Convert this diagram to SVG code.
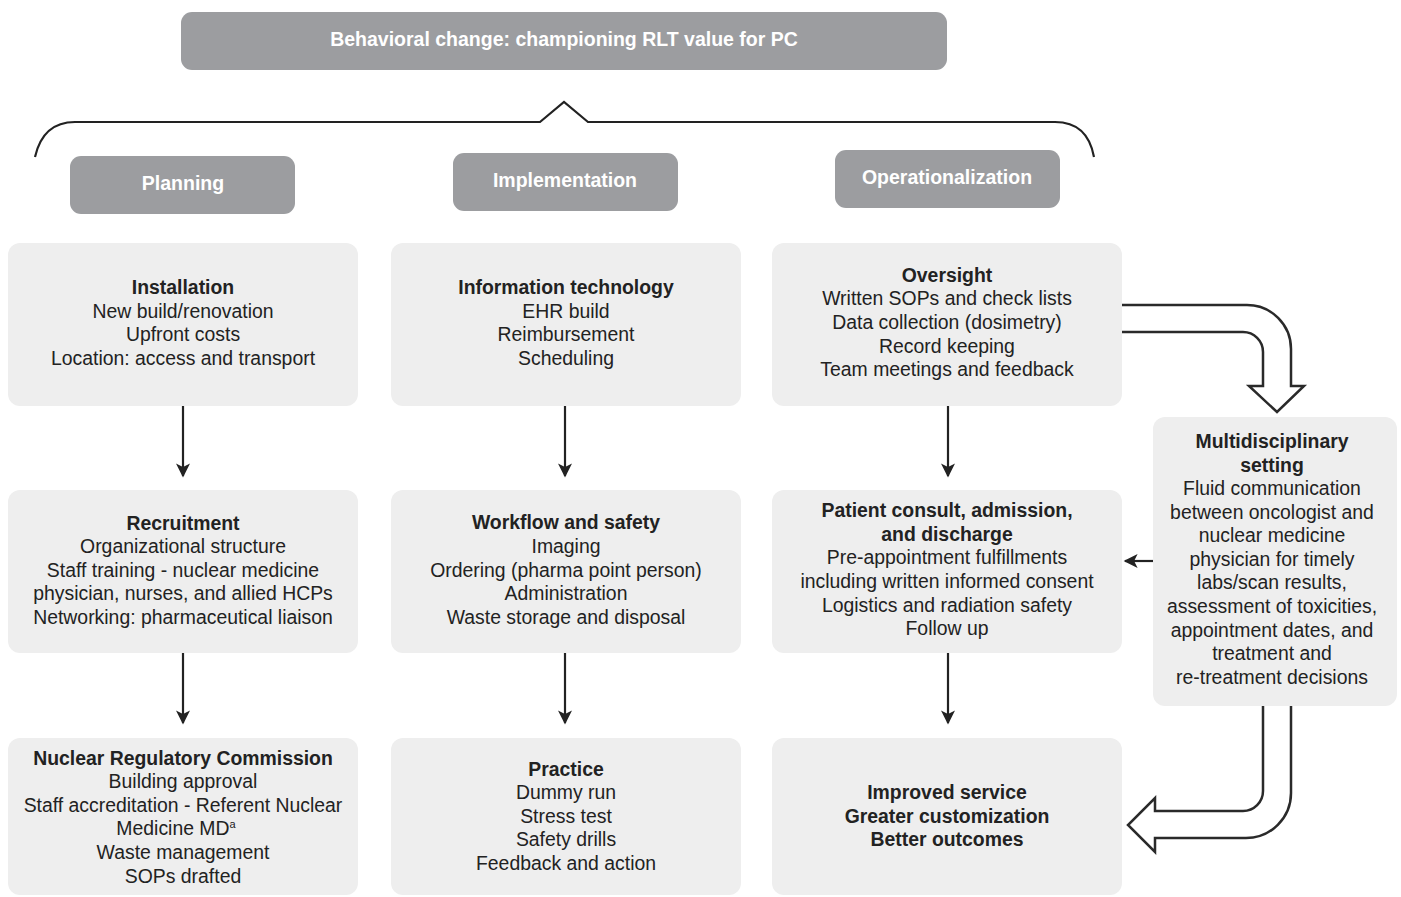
<svg xmlns="http://www.w3.org/2000/svg" width="1401" height="897" viewBox="0 0 1401 897">
<style>
.hdr{fill:#9c9da0}
.box{fill:#eeeeee}
.ht{font-family:"Liberation Sans",Arial,sans-serif;font-size:19.5px;font-weight:bold;fill:#ffffff;text-anchor:middle}
.t{font-family:"Liberation Sans",Arial,sans-serif;font-size:19.4px;fill:#222222;text-anchor:middle}
.b{font-weight:bold}
.ln{stroke:#222;stroke-width:2.2;fill:none}
.hol{stroke:#2a2a2a;stroke-width:2.5;fill:#ffffff;stroke-linejoin:miter}
</style>
<defs>
<marker id="ah" viewBox="0 0 10 10" refX="9" refY="5" markerWidth="15" markerHeight="14" markerUnits="userSpaceOnUse" orient="auto">
<path d="M0,0 L10,5 L0,10 L2.5,5 z" fill="#222"/>
</marker>
</defs>

<g id="title">
<rect class="hdr" x="181" y="12" width="766" height="58" rx="11"/>
<text class="ht" x="564" y="46">Behavioral change: championing RLT value for PC</text>
</g>

<g id="brace">
<path class="ln" d="M35,157 C40,135 52,122 75,122 L540,122 L564,102 L588,122 L1055,122 C1078,122 1090,135 1094,157"/>
</g>

<g id="planning">
<rect class="hdr" x="70" y="156" width="225" height="58" rx="11"/>
<text class="ht" x="183" y="190">Planning</text>
</g>
<g id="implementation">
<rect class="hdr" x="453" y="153" width="225" height="58" rx="11"/>
<text class="ht" x="565" y="187">Implementation</text>
</g>
<g id="operationalization">
<rect class="hdr" x="835" y="150" width="225" height="58" rx="11"/>
<text class="ht" x="947" y="184">Operationalization</text>
</g>

<g id="installation">
<rect class="box" x="8" y="243" width="350" height="163" rx="12"/>
<text class="t"><tspan class="b" x="183" y="294">Installation</tspan><tspan x="183" y="318">New build/renovation</tspan><tspan x="183" y="341">Upfront costs</tspan><tspan x="183" y="365">Location: access and transport</tspan></text>
</g>
<g id="recruitment">
<rect class="box" x="8" y="490" width="350" height="163" rx="12"/>
<text class="t"><tspan class="b" x="183" y="530">Recruitment</tspan><tspan x="183" y="553">Organizational structure</tspan><tspan x="183" y="577">Staff training - nuclear medicine</tspan><tspan x="183" y="600">physician, nurses, and allied HCPs</tspan><tspan x="183" y="624">Networking: pharmaceutical liaison</tspan></text>
</g>
<g id="nrc">
<rect class="box" x="8" y="738" width="350" height="157" rx="12"/>
<text class="t"><tspan class="b" x="183" y="765">Nuclear Regulatory Commission</tspan><tspan x="183" y="788">Building approval</tspan><tspan x="183" y="812">Staff accreditation - Referent Nuclear</tspan><tspan x="176" y="835">Medicine MD</tspan><tspan font-size="11" dy="-7">a</tspan><tspan x="183" y="859">Waste management</tspan><tspan x="183" y="883">SOPs drafted</tspan></text>
</g>

<g id="it">
<rect class="box" x="391" y="243" width="350" height="163" rx="12"/>
<text class="t"><tspan class="b" x="566" y="294">Information technology</tspan><tspan x="566" y="318">EHR build</tspan><tspan x="566" y="341">Reimbursement</tspan><tspan x="566" y="365">Scheduling</tspan></text>
</g>
<g id="workflow">
<rect class="box" x="391" y="490" width="350" height="163" rx="12"/>
<text class="t"><tspan class="b" x="566" y="529">Workflow and safety</tspan><tspan x="566" y="553">Imaging</tspan><tspan x="566" y="577">Ordering (pharma point person)</tspan><tspan x="566" y="600">Administration</tspan><tspan x="566" y="624">Waste storage and disposal</tspan></text>
</g>
<g id="practice">
<rect class="box" x="391" y="738" width="350" height="157" rx="12"/>
<text class="t"><tspan class="b" x="566" y="776">Practice</tspan><tspan x="566" y="799">Dummy run</tspan><tspan x="566" y="823">Stress test</tspan><tspan x="566" y="846">Safety drills</tspan><tspan x="566" y="870">Feedback and action</tspan></text>
</g>

<g id="oversight">
<rect class="box" x="772" y="243" width="350" height="163" rx="12"/>
<text class="t"><tspan class="b" x="947" y="282">Oversight</tspan><tspan x="947" y="305">Written SOPs and check lists</tspan><tspan x="947" y="329">Data collection (dosimetry)</tspan><tspan x="947" y="353">Record keeping</tspan><tspan x="947" y="376">Team meetings and feedback</tspan></text>
</g>
<g id="patient">
<rect class="box" x="772" y="490" width="350" height="163" rx="12"/>
<text class="t"><tspan class="b" x="947" y="517">Patient consult, admission,</tspan><tspan class="b" x="947" y="541">and discharge</tspan><tspan x="947" y="564">Pre-appointment fulfillments</tspan><tspan x="947" y="588">including written informed consent</tspan><tspan x="947" y="612">Logistics and radiation safety</tspan><tspan x="947" y="635">Follow up</tspan></text>
</g>
<g id="improved">
<rect class="box" x="772" y="738" width="350" height="157" rx="12"/>
<text class="t b"><tspan x="947" y="799">Improved service</tspan><tspan x="947" y="823">Greater customization</tspan><tspan x="947" y="846">Better outcomes</tspan></text>
</g>

<g id="multidisciplinary">
<rect class="box" x="1153" y="417" width="244" height="289" rx="12"/>
<text class="t"><tspan class="b" x="1272" y="448">Multidisciplinary</tspan><tspan class="b" x="1272" y="472">setting</tspan><tspan x="1272" y="495">Fluid communication</tspan><tspan x="1272" y="519">between oncologist and</tspan><tspan x="1272" y="542">nuclear medicine</tspan><tspan x="1272" y="566">physician for timely</tspan><tspan x="1272" y="589">labs/scan results,</tspan><tspan x="1272" y="613">assessment of toxicities,</tspan><tspan x="1272" y="637">appointment dates, and</tspan><tspan x="1272" y="660">treatment and</tspan><tspan x="1272" y="684">re-treatment decisions</tspan></text>
</g>

<g id="connectors">
<line class="ln" x1="183" y1="406" x2="183" y2="476" marker-end="url(#ah)"/>
<line class="ln" x1="183" y1="653" x2="183" y2="723" marker-end="url(#ah)"/>
<line class="ln" x1="565" y1="406" x2="565" y2="476" marker-end="url(#ah)"/>
<line class="ln" x1="565" y1="653" x2="565" y2="723" marker-end="url(#ah)"/>
<line class="ln" x1="948" y1="406" x2="948" y2="476" marker-end="url(#ah)"/>
<line class="ln" x1="948" y1="653" x2="948" y2="723" marker-end="url(#ah)"/>
<line class="ln" x1="1153" y1="561" x2="1125" y2="561" marker-end="url(#ah)"/>
<path class="hol" d="M1122,305 L1247,305 A44,44 0 0 1 1291,349 L1291,386 L1304,386 L1277,412 L1249,386 L1263,386 L1263,352 A20,20 0 0 0 1243,332 L1122,332"/>
<path class="hol" d="M1263,706 L1263,791 A20,20 0 0 1 1243,811 L1155,811 L1155,798 L1128,825 L1155,852 L1155,838 L1246,838 A45,45 0 0 0 1291,793 L1291,706"/>
</g>
</svg>
